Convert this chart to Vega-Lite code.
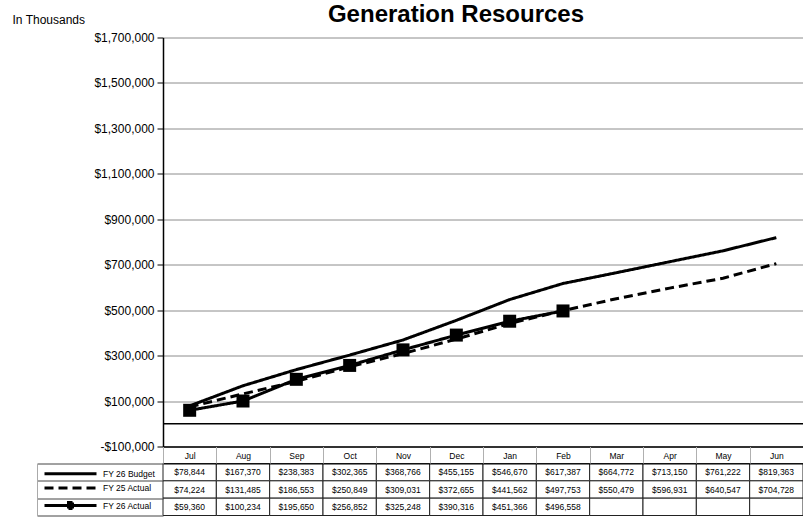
{
  "$schema": "https://vega.github.io/schema/vega-lite/v6.json",
  "padding": {"left": 12, "top": 2.5, "right": 0, "bottom": 0},
  "background": "white",
  "config": {"view": {"stroke": null}, "font": "Liberation Sans"},
  "data": {"values": [
    {"series": "FY 26 Budget", "month": "Jul", "value": 78844},
    {"series": "FY 26 Budget", "month": "Aug", "value": 167370},
    {"series": "FY 26 Budget", "month": "Sep", "value": 238383},
    {"series": "FY 26 Budget", "month": "Oct", "value": 302365},
    {"series": "FY 26 Budget", "month": "Nov", "value": 368766},
    {"series": "FY 26 Budget", "month": "Dec", "value": 455155},
    {"series": "FY 26 Budget", "month": "Jan", "value": 546670},
    {"series": "FY 26 Budget", "month": "Feb", "value": 617387},
    {"series": "FY 26 Budget", "month": "Mar", "value": 664772},
    {"series": "FY 26 Budget", "month": "Apr", "value": 713150},
    {"series": "FY 26 Budget", "month": "May", "value": 761222},
    {"series": "FY 26 Budget", "month": "Jun", "value": 819363},
    {"series": "FY 25 Actual", "month": "Jul", "value": 74224},
    {"series": "FY 25 Actual", "month": "Aug", "value": 131485},
    {"series": "FY 25 Actual", "month": "Sep", "value": 186553},
    {"series": "FY 25 Actual", "month": "Oct", "value": 250849},
    {"series": "FY 25 Actual", "month": "Nov", "value": 309031},
    {"series": "FY 25 Actual", "month": "Dec", "value": 372655},
    {"series": "FY 25 Actual", "month": "Jan", "value": 441562},
    {"series": "FY 25 Actual", "month": "Feb", "value": 497753},
    {"series": "FY 25 Actual", "month": "Mar", "value": 550479},
    {"series": "FY 25 Actual", "month": "Apr", "value": 596931},
    {"series": "FY 25 Actual", "month": "May", "value": 640547},
    {"series": "FY 25 Actual", "month": "Jun", "value": 704728},
    {"series": "FY 26 Actual", "month": "Jul", "value": 59360},
    {"series": "FY 26 Actual", "month": "Aug", "value": 100234},
    {"series": "FY 26 Actual", "month": "Sep", "value": 195650},
    {"series": "FY 26 Actual", "month": "Oct", "value": 256852},
    {"series": "FY 26 Actual", "month": "Nov", "value": 325248},
    {"series": "FY 26 Actual", "month": "Dec", "value": 390316},
    {"series": "FY 26 Actual", "month": "Jan", "value": 451366},
    {"series": "FY 26 Actual", "month": "Feb", "value": 496558},
    {"series": "FY 26 Actual", "month": "Mar", "value": null},
    {"series": "FY 26 Actual", "month": "Apr", "value": null},
    {"series": "FY 26 Actual", "month": "May", "value": null},
    {"series": "FY 26 Actual", "month": "Jun", "value": null}
  ]},
  "bounds": "flush",
  "spacing": 17,
  "vconcat": [
    {
      "width": 640,
      "height": 409,
      "title": {"text": "Generation Resources", "fontSize": 24, "fontWeight": "bold", "font": "Liberation Sans", "color": "black", "anchor": "middle", "frame": "group", "dx": -27, "baseline": "alphabetic", "offset": -32.6},
      "layer": [
        {
          "data": {"values": [{"v": 0}]},
          "mark": {"type": "rule", "color": "black", "strokeWidth": 1.5},
          "encoding": {"y": {"field": "v", "type": "quantitative"}}
        },
        {
          "transform": [{"filter": "datum.value != null"}],
          "mark": {"type": "line", "strokeWidth": 3, "color": "black"},
          "encoding": {
            "x": {"field": "month", "type": "ordinal", "scale": {"type": "point", "domain": ["Jul","Aug","Sep","Oct","Nov","Dec","Jan","Feb","Mar","Apr","May","Jun"], "padding": 0.5},
                  "axis": {"title": null, "labels": false, "ticks": false, "domainColor": "black", "domainWidth": 1.5}},
            "y": {"field": "value", "type": "quantitative", "scale": {"domain": [-100000, 1700000], "nice": false, "zero": false},
                  "axis": {"title": "In Thousands", "titleAngle": 0, "titleAlign": "left", "titleBaseline": "alphabetic", "titleX": -151, "titleY": -14.5, "titleFontSize": 12, "titleFontWeight": "normal", "titleColor": "black", "titleFont": "Liberation Sans",
                           "values": [-100000, 100000, 300000, 500000, 700000, 900000, 1100000, 1300000, 1500000, 1700000],
                           "labelExpr": "datum.value < 0 ? '-$' + format(-datum.value, ',') : '$' + format(datum.value, ',')",
                           "labelFontSize": 12, "labelColor": "black", "labelFont": "Liberation Sans", "tickSize": 6, "tickColor": "black", "labelPadding": 3,
                           "domainColor": "black", "domainWidth": 1.5, "grid": true, "gridColor": "#8c8c8c", "gridWidth": 1}},
            "strokeDash": {"field": "series", "type": "nominal",
                           "scale": {"domain": ["FY 26 Budget", "FY 25 Actual", "FY 26 Actual"], "range": [[1, 0], [9, 5], [1, 0]]},
                           "legend": {"title": null, "orient": "none", "legendX": -99, "legendY": 429.7, "padding": 0, "rowPadding": 1.4,
                                      "symbolType": "M-5.2,0H5.2", "symbolSize": 100, "symbolStrokeWidth": 3, "symbolStrokeColor": "black",
                                      "labelOffset": 26, "labelFont": "Liberation Sans", "labelFontSize": 8.5, "labelColor": "black",
                                      "encode": {"symbols": {"update": {
                                        "shape": {"signal": "datum.value === 'FY 26 Actual' ? 'M-5.2,0H5.2M-0.4,-0.6H0.4V0.6H-0.4Z' : 'M-5.2,0H5.2'"},
                                        "fill": {"value": "black"}, "stroke": {"value": "black"}}}}}},
            "order": {"value": null}
          }
        },
        {
          "transform": [{"filter": "datum.series === 'FY 26 Actual' && datum.value != null"}],
          "mark": {"type": "point", "shape": "square", "filled": true, "size": 169, "color": "black", "opacity": 1},
          "encoding": {
            "x": {"field": "month", "type": "ordinal"},
            "y": {"field": "value", "type": "quantitative"}
          }
        }
      ]
    },
    {
      "width": 640,
      "height": 52,
      "encoding": {
        "x": {"field": "month", "type": "ordinal",
              "scale": {"type": "band", "domain": ["Jul","Aug","Sep","Oct","Nov","Dec","Jan","Feb","Mar","Apr","May","Jun"], "paddingInner": 0, "paddingOuter": 0},
              "axis": {"orient": "top", "title": null, "tickBand": "extent", "tickSize": 17, "tickColor": "#b0b0b0", "labelPadding": -8.5, "labelBaseline": "middle", "labelAngle": 0,
                       "labelFont": "Liberation Sans", "labelFontSize": 8.5, "labelColor": "black", "domainColor": "black"}},
        "y": {"field": "series", "type": "nominal",
              "scale": {"type": "band", "domain": ["FY 26 Budget", "FY 25 Actual", "FY 26 Actual"], "paddingInner": 0, "paddingOuter": 0},
              "axis": {"title": null, "labels": false, "offset": 126, "tickSize": -126, "tickBand": "extent", "tickColor": "#444", "domainColor": "#aaa"}}
      },
      "layer": [
        {"mark": {"type": "rect", "fill": "white", "stroke": "#222", "strokeWidth": 1}},
        {
          "transform": [{"filter": "datum.value != null"}],
          "mark": {"type": "text", "font": "Liberation Sans", "fontSize": 8.5, "color": "black"},
          "encoding": {"text": {"field": "value", "type": "quantitative", "format": "$,"}}
        }
      ]
    }
  ]
}
